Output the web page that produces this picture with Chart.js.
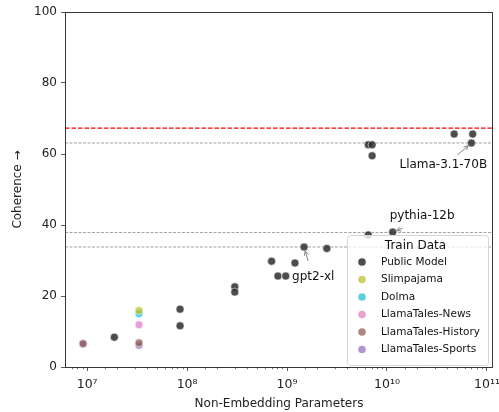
<!DOCTYPE html>
<html>
<head>
<meta charset="utf-8" />
<title>Coherence vs parameters</title>
<script src="https://cdn.jsdelivr.net/npm/chart.js@4.4.0/dist/chart.umd.min.js"></script>
<style>
    html, body { margin: 0; padding: 0; background: #fff; }
    #wrap { width: 499px; height: 412px; }
</style>
</head>
<body>
<div id="wrap"><canvas id="chart" width="499" height="412"></canvas></div>
<script>
// public models: non-embedding params vs coherence
var publicParams = [1.87e7, 8.5e7, 8.5e7, 3.0e8, 3.0e8, 7.0e8, 8.1e8, 9.7e8, 1.2e9, 1.48e9, 2.5e9, 6.5e9, 1.14e10, 6.5e9, 7.1e9, 7.1e9, 4.7e10, 7.2e10, 7.0e10];
var publicCoh    = [8.4, 16.3, 11.6, 22.6, 21.1, 29.8, 25.6, 25.6, 29.3, 33.8, 33.4, 37.2, 38.0, 62.6, 62.6, 59.5, 65.6, 65.6, 63.1];

// our own trained models
var slimParams = [3.3e7];          var slimCoh = [15.9];
var dolmaParams = [3.3e7];         var dolmaCoh = [15.0];
var newsParams = [3.3e7];          var newsCoh = [11.9];
var historyParams = [9.1e6, 3.3e7]; var historyCoh = [6.6, 6.8];
var sportsParams = [9.1e6, 3.3e7];  var sportsCoh = [6.4, 6.1];

var seriesNames = ['Public Model', 'Slimpajama', 'Dolma', 'LlamaTales-News', 'LlamaTales-History', 'LlamaTales-Sports'];
var seriesColors = ['rgba(45,45,45,0.85)', 'rgba(188,189,34,0.7)', 'rgba(23,190,207,0.7)', 'rgba(227,119,194,0.7)', 'rgba(140,86,75,0.7)', 'rgba(148,103,189,0.7)'];

// horizontal reference lines
var refLineValues = [67.3, 63.1, 37.9, 33.8];
var refLineColors = ['#ff0000', '#888888', '#888888', '#888888'];

// labelled models
var noteNames = ['Llama-3.1-70B', 'pythia-12b', 'gpt2-xl'];
var noteParams = [7.0e10, 1.14e10, 1.48e9];
var noteCoh = [63.1, 38.0, 33.8];

var yTicks = [0, 20, 40, 60, 80, 100];

function pts(xs, ys) {
    var out = [];
    for (var i = 0; i < xs.length; i++) out.push({ x: xs[i], y: ys[i] });
    return out;
}

var allSeries = [
    pts(publicParams, publicCoh), pts(slimParams, slimCoh), pts(dolmaParams, dolmaCoh),
    pts(newsParams, newsCoh), pts(historyParams, historyCoh), pts(sportsParams, sportsCoh)
];

var datasets = [];
for (var s = 0; s < allSeries.length; s++) {
    datasets.push({
        label: seriesNames[s],
        data: allSeries[s],
        backgroundColor: seriesColors[s],
        borderColor: 'rgba(255,255,255,0.9)',
        borderWidth: 0.6,
        pointRadius: 4,
        pointHoverRadius: 4
    });
}

function isPow10(v) {
    var l = Math.log10(v);
    return Math.abs(l - Math.round(l)) < 1e-9;
}
var supers = { '0': '\u2070', '1': '\u00b9', '2': '\u00b2', '3': '\u00b3', '4': '\u2074', '5': '\u2075', '6': '\u2076', '7': '\u2077', '8': '\u2078', '9': '\u2079' };
function powLabel(v) {
    var e = String(Math.round(Math.log10(v)));
    var s = '';
    for (var i = 0; i < e.length; i++) s += supers[e[i]];
    return '10' + s;
}

var FONT = "'DejaVu Sans', sans-serif";

// box, minor ticks, reference lines, notes and legend
var decor = {
    id: 'decor',
    beforeDatasetsDraw: function (chart) {
        var ctx = chart.ctx, a = chart.chartArea, y = chart.scales.y;
        ctx.save();
        for (var i = 0; i < refLineValues.length; i++) {
            var py = y.getPixelForValue(refLineValues[i]);
            ctx.beginPath();
            ctx.strokeStyle = refLineColors[i];
            if (i === 0) { ctx.lineWidth = 1.2; ctx.setLineDash([4.5, 2]); }
            else { ctx.lineWidth = 0.8; ctx.setLineDash([3, 1.5]); }
            ctx.moveTo(a.left, py);
            ctx.lineTo(a.right, py);
            ctx.stroke();
        }
        ctx.restore();
    },
    afterDatasetsDraw: function (chart) {
        var ctx = chart.ctx, a = chart.chartArea, x = chart.scales.x, y = chart.scales.y;
        ctx.save();

        // minor ticks on the log axis
        ctx.strokeStyle = '#333';
        ctx.lineWidth = 0.7;
        x.ticks.forEach(function (t) {
            if (isPow10(t.value)) return;
            var px = Math.round(x.getPixelForValue(t.value)) + 0.5;
            if (px <= a.left + 1 || px >= a.right - 1) return;
            ctx.beginPath();
            ctx.moveTo(px, a.bottom);
            ctx.lineTo(px, a.bottom + 2.2);
            ctx.stroke();
        });

        // frame
        ctx.strokeStyle = '#222';
        ctx.lineWidth = 0.9;
        ctx.strokeRect(a.left + 0.5, a.top + 0.5, a.right - a.left - 1, a.bottom - a.top);

        // annotations with arrows
        var offs = [[-72, 22, -14, 12], [-3, -16, 10, -4], [-12, 30, 4, 14]];
        ctx.font = '12px ' + FONT;
        ctx.textBaseline = 'middle';
        for (var i = 0; i < noteNames.length; i++) {
            var px = x.getPixelForValue(noteParams[i]);
            var py = y.getPixelForValue(noteCoh[i]);
            var o = offs[i];
            ctx.fillStyle = '#111';
            ctx.fillText(noteNames[i], px + o[0], py + o[1]);
            var sx = px + o[2], sy = py + o[3];
            var ang = Math.atan2(py - sy, px - sx);
            var ex = px - Math.cos(ang) * 4, ey = py - Math.sin(ang) * 4;
            ctx.strokeStyle = '#888';
            ctx.lineWidth = 1;
            ctx.beginPath();
            ctx.moveTo(sx, sy);
            ctx.lineTo(ex, ey);
            ctx.moveTo(ex - Math.cos(ang - 0.45) * 5, ey - Math.sin(ang - 0.45) * 5);
            ctx.lineTo(ex, ey);
            ctx.lineTo(ex - Math.cos(ang + 0.45) * 5, ey - Math.sin(ang + 0.45) * 5);
            ctx.stroke();
        }

        // legend box in the lower right corner
        var lw = 141, lh = 130;
        var lx = a.right - 5 - lw, ly = a.bottom - 2 - lh;
        ctx.beginPath();
        ctx.roundRect(lx + 0.5, ly + 0.5, lw, lh, 3);
        ctx.fillStyle = 'rgba(255,255,255,0.8)';
        ctx.fill();
        ctx.strokeStyle = '#d6d6d6';
        ctx.lineWidth = 1;
        ctx.stroke();
        ctx.fillStyle = '#111';
        ctx.textAlign = 'center';
        ctx.font = '12px ' + FONT;
        ctx.fillText('Train Data', lx + lw / 2 - 2, ly + 11);
        ctx.textAlign = 'left';
        ctx.font = '10.5px ' + FONT;
        for (var k = 0; k < seriesNames.length; k++) {
            var ey2 = ly + 27 + k * 17.5;
            ctx.beginPath();
            ctx.arc(lx + 15, ey2, 3.8, 0, Math.PI * 2);
            ctx.fillStyle = seriesColors[k];
            ctx.fill();
            ctx.fillStyle = '#111';
            ctx.fillText(seriesNames[k], lx + 34, ey2);
        }
        ctx.restore();
    }
};

new Chart(document.getElementById('chart'), {
    type: 'scatter',
    data: { datasets: datasets },
    options: {
        responsive: false,
        animation: false,
        events: [],
        layout: { padding: { top: 12, right: 6, left: 0, bottom: 0 } },
        plugins: { legend: { display: false }, tooltip: { enabled: false } },
        scales: {
            x: {
                type: 'logarithmic',
                min: 6e6,
                max: 1.15e11,
                border: { display: false },
                grid: {
                    drawOnChartArea: false,
                    tickLength: 4,
                    tickWidth: 0.8,
                    tickColor: function (c) { return c.tick && isPow10(c.tick.value) ? '#333' : 'rgba(0,0,0,0)'; }
                },
                ticks: {
                    autoSkip: false,
                    maxRotation: 0,
                    padding: 6,
                    color: '#222',
                    font: { family: FONT, size: 12.5 },
                    callback: function (v) { return isPow10(v) ? powLabel(v) : ''; }
                },
                title: {
                    display: true,
                    text: 'Non-Embedding Parameters',
                    color: '#222',
                    font: { family: FONT, size: 12 },
                    padding: { top: 2, bottom: 1 }
                },
                afterFit: function (sc) { sc.height = 45; sc.paddingLeft = 0; sc.paddingRight = 0; }
            },
            y: {
                min: 0,
                max: 100,
                border: { display: false },
                afterBuildTicks: function (sc) { sc.ticks = yTicks.map(function (v) { return { value: v }; }); },
                grid: { drawOnChartArea: false, tickLength: 4, tickWidth: 0.8, tickColor: '#333' },
                ticks: { padding: 4, color: '#222', font: { family: FONT, size: 12 } },
                title: {
                    display: true,
                    text: 'Coherence \u2192',
                    color: '#222',
                    font: { family: FONT, size: 12 },
                    padding: { top: 11, bottom: 4 }
                },
                afterFit: function (sc) { sc.width = 65; sc.paddingTop = 0; sc.paddingBottom = 0; }
            }
        }
    },
    plugins: [decor]
});
</script>
</body>
</html>
